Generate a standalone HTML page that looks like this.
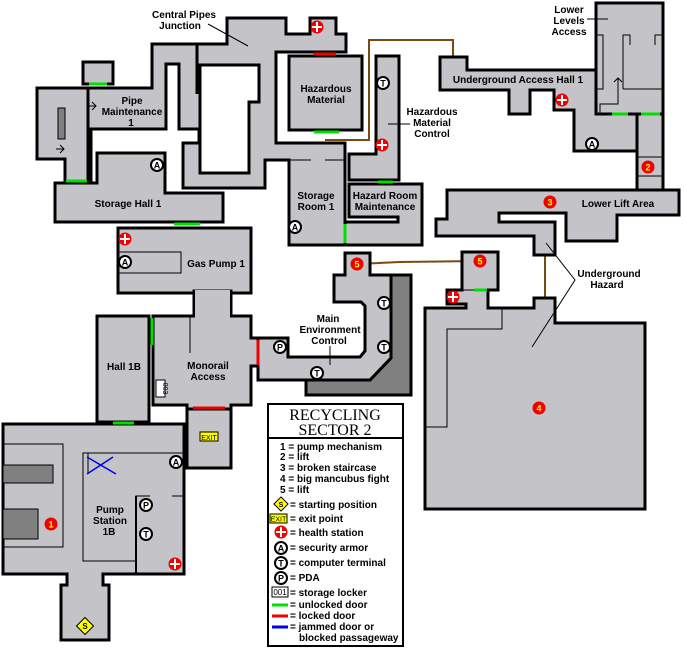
<!DOCTYPE html>
<html><head><meta charset="utf-8"><style>
html,body{margin:0;padding:0;background:#fff}
svg{display:block}
text{font-family:"Liberation Sans","DejaVu Sans",sans-serif;font-weight:bold;font-size:10px;fill:#000}
.r{fill:#c4c3c7;stroke:#000;stroke-width:3;stroke-linejoin:miter}
.w{fill:#fff;stroke:#000;stroke-width:3}
.l{stroke:#000;stroke-width:1;fill:none}
.g{stroke:#00e000;stroke-width:3}
.rd{stroke:#f00000;stroke-width:3}
.br{stroke:#7a4a10;stroke-width:2;fill:none}
.ic{fill:#fff;stroke:#000;stroke-width:2}
.it{font-size:9px;text-anchor:middle}
.n{fill:#f00000}
.nt{fill:#ffff00;font-size:9px;text-anchor:middle}
.c{text-anchor:middle}
</style></head><body>
<svg width="684" height="650" viewBox="0 0 684 650" xmlns="http://www.w3.org/2000/svg">
<defs>
<g id="h"><circle r="6.5" fill="#f00000"/><rect x="-1" y="-5" width="2" height="10" fill="#fff"/><rect x="-5" y="-1" width="10" height="2" fill="#fff"/></g>
</defs>
<polyline class="br" points="325,140 369,140 369,40 453,40 453,57"/>
<polyline class="br" points="357,264 400,262 480,261"/>
<line class="br" x1="545" y1="255" x2="545" y2="298"/>

<rect class="r" x="83" y="62" width="30" height="22"/>
<polygon class="r" points="37,88 88,88 88,183 65,183 65,159 37,159"/>
<rect x="58" y="108" width="7" height="31" fill="#808080" stroke="#000" stroke-width="1"/>
<polygon class="r" points="55,183 97,183 97,153 165,153 165,193 223,193 223,222 55,222"/>
<polygon class="r" points="88,88 152,88 152,44 227,44 227,18 286,18 286,34 310,34 310,18 336,18 336,34 346,34 346,52 276,52 276,143 345,143 345,245 289,245 289,160 265,160 265,188 183,188 183,143 199,143 199,129 179,129 179,64 166,64 166,129 91,129 91,183 88,183"/>
<polygon class="w" points="200,65 259,65 259,102 249,102 249,173 200,173"/>
<line x1="197" y1="44" x2="197" y2="94" stroke="#000" stroke-width="3"/>
<line class="l" x1="88" y1="88" x2="88" y2="183"/>
<line class="l" x1="289" y1="160" x2="311" y2="160"/><line class="l" x1="325" y1="160" x2="345" y2="160"/>
<rect class="r" x="289" y="56" width="73" height="74"/>
<polygon class="r" points="376,56 399,56 399,180 349,180 349,154 376,154"/>
<polygon class="r" points="349,184 422,184 422,245 345,245 345,222 398,222 398,217 349,217"/>
<line class="g" x1="89" y1="84" x2="107" y2="84"/>
<line class="g" x1="66" y1="181" x2="87" y2="181"/>
<line class="g" x1="174" y1="224" x2="200" y2="224"/>
<line class="rd" x1="313" y1="54" x2="336" y2="54"/>
<line class="g" x1="314" y1="132" x2="339" y2="132"/>
<line class="g" x1="378" y1="182" x2="393" y2="182"/>
<line class="g" x1="345" y1="224" x2="345" y2="243"/>
<path class="l" d="M88,106 h8 m-4,-4 l4,4 l-4,4 M56,149 h8 m-4,-4 l4,4 l-4,4"/>

<rect class="r" x="596" y="3" width="67" height="111"/>
<path class="l" d="M596,35 h7 v54 h-7 M623,89 v-54 h7 v10 M655,45 v-10 h8 M623,89 h40 M600,114 v-10 h18 v-26 m-4,4 l4,-4 l4,4"/>
<polygon class="r" points="440,57 467,57 467,70 596,70 596,114 637,114 637,151 574,151 574,110 554,110 554,90 530,90 530,114 509,114 509,90 440,90"/>
<rect class="r" x="637" y="114" width="26" height="76"/>
<line class="l" x1="637" y1="157" x2="663" y2="157"/><line class="l" x1="637" y1="176" x2="663" y2="176"/>
<line class="g" x1="612" y1="114" x2="628" y2="114"/><line class="g" x1="641" y1="114" x2="660" y2="114"/>
<polygon class="r" points="447,190 679,190 679,215 617,215 617,241 566,241 566,213 499,213 499,222 555,222 555,255 534,255 534,236 436,236 436,219 447,219"/>
<polygon class="r" points="462,252 498,252 498,290 488,290 488,308 534,308 534,298 555,298 555,323 645,323 645,509 425,509 425,308 466,308 466,304 447,304 447,290 462,290"/>
<path class="l" d="M425,427 h22 v-98 h55 v-21"/>
<line class="l" x1="462" y1="290" x2="488" y2="290"/>
<line class="g" x1="474" y1="290" x2="487" y2="290"/>

<rect class="r" x="118" y="228" width="133" height="65"/>
<rect x="119" y="252" width="62" height="21" fill="none" stroke="#000" stroke-width="1"/>
<rect class="r" x="194" y="291" width="37" height="27"/>
<polygon class="r" points="153,316 251,316 251,338 258,338 258,366 251,366 251,405 231,405 231,409 187,409 187,405 153,405"/>
<rect x="195" y="290" width="35" height="28" fill="#c4c3c7"/>
<rect class="r" x="97" y="316" width="52" height="106"/>
<line class="g" x1="152" y1="318" x2="152" y2="345"/>
<rect class="r" x="187" y="409" width="44" height="59"/>
<line class="rd" x1="193" y1="408" x2="225" y2="408"/>
<line class="l" x1="190" y1="317" x2="190" y2="353"/>
<polygon points="306,380 370,380 391,358 391,275 411,275 411,395 306,395" fill="#808080" stroke="#000" stroke-width="3"/>
<polygon class="r" points="258,338 288,338 288,357 360,357 365,351 365,306 361,302 334,302 334,275 345,275 345,253 370,253 370,275 391,275 391,358 370,380 258,380"/>
<line class="rd" x1="258" y1="340" x2="258" y2="365"/>
<line class="l" x1="330" y1="346" x2="330" y2="365"/>

<polygon class="r" points="3,424 184,424 184,574 103,574 103,585 109,585 109,640 61,640 61,585 67,585 67,574 3,574"/>
<line class="g" x1="113" y1="423" x2="134" y2="423"/>
<rect x="3" y="444" width="60" height="103" fill="none" stroke="#000" stroke-width="1"/>
<rect x="3" y="465" width="50" height="18" fill="#808080" stroke="#000" stroke-width="1"/>
<rect x="3" y="509" width="35" height="30" fill="#808080" stroke="#000" stroke-width="1"/>
<path class="l" d="M184,453 H83 V561 H136 M136,574 V496 H150 M172,496 H184 M88,453 v20"/>
<path d="M87,457 L116,474 M87,474 L113,457" stroke="#0000f0" stroke-width="1.5"/>
<line x1="136" y1="574" x2="136" y2="496" stroke="#000" stroke-width="2"/>

<line class="l" x1="208" y1="24" x2="248" y2="46"/>
<line class="l" x1="388" y1="124" x2="410" y2="124"/>
<line class="l" x1="587" y1="19" x2="608" y2="19"/>
<path class="l" d="M546,243 L575,280 L532,347"/>

<use href="#h" x="317" y="27"/><use href="#h" x="382" y="145"/><use href="#h" x="125" y="239"/>
<use href="#h" x="562" y="100"/><use href="#h" x="453" y="297"/><use href="#h" x="175" y="564"/>
<g>
<circle class="ic" cx="383" cy="83" r="6"/><text class="it" x="383" y="86.5">T</text>
<circle class="ic" cx="157" cy="165" r="6"/><text class="it" x="157" y="168.5">A</text>
<circle class="ic" cx="295" cy="227" r="6"/><text class="it" x="295" y="230.5">A</text>
<circle class="ic" cx="125" cy="262" r="6"/><text class="it" x="125" y="265.5">A</text>
<circle class="ic" cx="592" cy="144" r="6"/><text class="it" x="592" y="147.5">A</text>
<circle class="ic" cx="384" cy="303" r="6"/><text class="it" x="384" y="306.5">T</text>
<circle class="ic" cx="384" cy="347" r="6"/><text class="it" x="384" y="350.5">T</text>
<circle class="ic" cx="317" cy="373" r="6"/><text class="it" x="317" y="376.5">T</text>
<circle class="ic" cx="280" cy="347" r="6"/><text class="it" x="280" y="350.5">P</text>
<circle class="ic" cx="176" cy="462" r="6"/><text class="it" x="176" y="465.5">A</text>
<circle class="ic" cx="146" cy="505" r="6"/><text class="it" x="146" y="508.5">P</text>
<circle class="ic" cx="146" cy="534" r="6"/><text class="it" x="146" y="537.5">T</text>
</g>
<g>
<circle class="n" cx="648" cy="167" r="6.5"/><text class="nt" x="648" y="170.5">2</text>
<circle class="n" cx="550" cy="202" r="6.5"/><text class="nt" x="550" y="205.5">3</text>
<circle class="n" cx="480" cy="261" r="6.5"/><text class="nt" x="480" y="264.5">5</text>
<circle class="n" cx="357" cy="264" r="6.5"/><text class="nt" x="357" y="267.5">5</text>
<circle class="n" cx="539" cy="408" r="6.5"/><text class="nt" x="539" y="411.5">4</text>
<circle class="n" cx="51" cy="524" r="6.5"/><text class="nt" x="51" y="527.5">1</text>
</g>
<rect x="79" y="620" width="12" height="12" transform="rotate(45 85 626)" fill="#ffff00" stroke="#000" stroke-width="1"/>
<text class="it" x="85" y="629" style="font-size:8px">S</text>
<rect x="200" y="432" width="18" height="9" fill="#ffff00" stroke="#000" stroke-width="1"/>
<text x="209" y="440" class="c" style="font-size:7px;font-weight:normal">EXIT</text>
<rect x="156" y="380" width="9" height="17" fill="#fff" stroke="#000" stroke-width="1"/>
<text x="0" y="0" transform="translate(163,388.5) rotate(90)" class="c" style="font-size:7px;font-weight:normal">003</text>

<text class="c" x="184" y="18">Central Pipes</text><text class="c" x="180" y="29">Junction</text>
<text class="c" x="132" y="104">Pipe</text><text class="c" x="132" y="115">Maintenance</text><text class="c" x="131" y="126">1</text>
<text class="c" x="128" y="207">Storage Hall 1</text>
<text class="c" x="326" y="92">Hazardous</text><text class="c" x="326" y="103">Material</text>
<text class="c" x="432" y="115">Hazardous</text><text class="c" x="432" y="126">Material</text><text class="c" x="432" y="137">Control</text>
<text class="c" x="316" y="199">Storage</text><text class="c" x="316" y="210">Room 1</text>
<text class="c" x="385" y="199">Hazard Room</text><text class="c" x="385" y="210">Maintenance</text>
<text class="c" x="518" y="83">Underground Access Hall 1</text>
<text class="c" x="569" y="13">Lower</text><text class="c" x="569" y="24">Levels</text><text class="c" x="569" y="35">Access</text>
<text class="c" x="618" y="207">Lower Lift Area</text>
<text class="c" x="609" y="277">Underground</text><text class="c" x="607" y="288">Hazard</text>
<text class="c" x="216" y="267">Gas Pump 1</text>
<text class="c" x="328" y="322">Main</text><text class="c" x="330" y="333">Environment</text><text class="c" x="329" y="344">Control</text>
<text class="c" x="124" y="370">Hall 1B</text>
<text class="c" x="208" y="369">Monorail</text><text class="c" x="208" y="380">Access</text>
<text class="c" x="110" y="513">Pump</text><text class="c" x="110" y="524">Station</text><text class="c" x="109" y="535">1B</text>

<rect x="268" y="404" width="135" height="242" fill="#fff" stroke="#000" stroke-width="2"/>
<line x1="268" y1="438" x2="403" y2="438" stroke="#000" stroke-width="2"/>
<text class="c" x="335" y="420" style="font-family:'Liberation Serif',serif;font-weight:normal;font-size:16px">RECYCLING</text>
<text class="c" x="335" y="435" style="font-family:'Liberation Serif',serif;font-weight:normal;font-size:16px">SECTOR 2</text>
<g style="font-size:10px">
<text x="280" y="450">1 = pump mechanism</text>
<text x="280" y="460">2 = lift</text>
<text x="280" y="471">3 = broken staircase</text>
<text x="280" y="482">4 = big mancubus fight</text>
<text x="280" y="493">5 = lift</text>
<text x="290" y="508">= starting position</text>
<text x="290" y="522">= exit point</text>
<text x="290" y="536">= health station</text>
<text x="290" y="551">= security armor</text>
<text x="290" y="566">= computer terminal</text>
<text x="290" y="581">= PDA</text>
<text x="290" y="596">= storage locker</text>
<text x="290" y="608">= unlocked door</text>
<text x="290" y="619">= locked door</text>
<text x="290" y="630">= jammed door or</text>
<text x="299" y="641">blocked passageway</text>
</g>
<rect x="276" y="499" width="10" height="10" transform="rotate(45 281 504)" fill="#ffff00" stroke="#000" stroke-width="1"/>
<text class="it" x="281" y="507" style="font-size:7px">S</text>
<rect x="270" y="514" width="17" height="9" fill="#ffff00" stroke="#000" stroke-width="1"/>
<text x="278.5" y="521.5" class="c" style="font-size:7px;font-weight:normal">EXIT</text>
<use href="#h" x="281" y="532"/>
<circle class="ic" cx="281" cy="548" r="6"/><text class="it" x="281" y="551.5">A</text>
<circle class="ic" cx="281" cy="563" r="6"/><text class="it" x="281" y="566.5">T</text>
<circle class="ic" cx="281" cy="578" r="6"/><text class="it" x="281" y="581.5">P</text>
<rect x="272" y="587" width="16" height="10" fill="#fff" stroke="#000" stroke-width="1"/>
<text x="280" y="595" class="c" style="font-size:8px;font-weight:normal">001</text>
<line class="g" x1="272" y1="605" x2="288" y2="605"/>
<line class="rd" x1="272" y1="616" x2="288" y2="616"/>
<line x1="272" y1="627" x2="288" y2="627" stroke="#0000f0" stroke-width="3"/>
</svg>
</body></html>
